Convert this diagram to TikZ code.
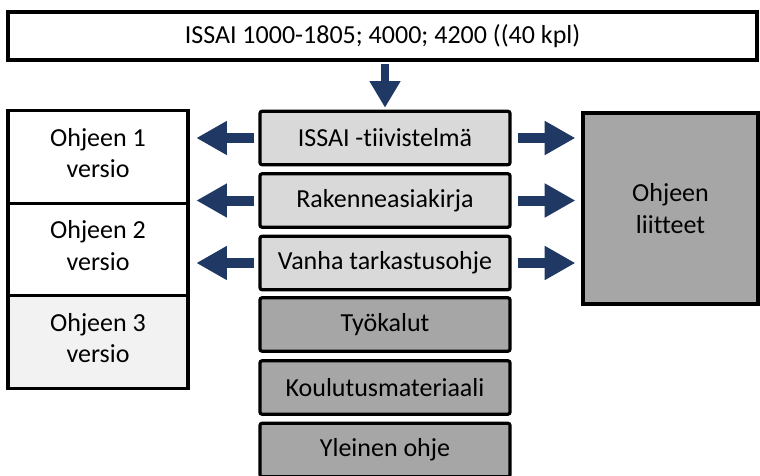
\documentclass[tikz,border=0pt]{standalone}
\usepackage{fontspec}
\setmainfont{Carlito}[Ligatures={NoCommon,NoContextual,NoRequired}]
\usetikzlibrary{arrows.meta}
\definecolor{arrowblue}{RGB}{31,56,100}
\definecolor{lightfill}{RGB}{217,217,217}
\definecolor{darkfill}{RGB}{166,166,166}
\definecolor{palefill}{RGB}{242,242,242}
\tikzset{
  box/.style={draw=black, line width=2.4pt, align=center, inner sep=0pt,
    font=\fontsize{19.5}{23.5}\selectfont},
  topbox/.style={box, fill=white, minimum width=561.75pt, minimum height=36pt},
  midbox/.style={box, rounded corners=1.5pt, minimum width=187.5pt, minimum height=40pt},
  verbox/.style={box, text depth=6pt, minimum width=135pt, minimum height=69.4pt},
  attbox/.style={box, fill=darkfill, minimum width=131.25pt, minimum height=143.25pt},
  arr/.style={draw=arrowblue, line width=7.5pt, -{Triangle[length=23pt,width=24pt]}},
}
\begin{document}
\begin{tikzpicture}[x=0.75pt, y=-0.75pt]
  \clip (0,0) rectangle (760,475);
  % ISSAI standards
  \node[topbox] (issai) at (382.5,36) {ISSAI 1000-1805; 4000; 4200 ((40 kpl)};
  % middle column
  \foreach \n/\y/\col/\txt in {1/138/lightfill/ISSAI -tiivistelmä,
      2/200.5/lightfill/Rakenneasiakirja, 3/263/lightfill/Vanha tarkastusohje,
      4/324.5/darkfill/Työkalut, 5/387.5/darkfill/Koulutusmateriaali,
      6/450/darkfill/Yleinen ohje} {
    \node[midbox, fill=\col] (mid\n) at (385,\y) {\txt};
  }
  % versions of the guide
  \node[verbox, fill=white] (ver1) at (98,157) {Ohjeen 1\\versio};
  \node[verbox, fill=white] (ver2) at (98,249.5) {Ohjeen 2\\versio};
  \node[verbox, fill=palefill] (ver3) at (98,342) {Ohjeen 3\\versio};
  \node[attbox] (att) at (670.5,208.5) {Ohjeen\\liitteet};
  % arrows
  \draw[arr, line width=5.5pt, -{Triangle[length=20pt,width=22pt]},
    shorten <=2pt, shorten >=1.5pt] (issai.south -| mid1.north) -- (mid1.north);
  \foreach \n/\v in {1/ver1, 2/ver1, 3/ver2} {
    \draw[arr, shorten <=3pt, shorten >=5pt] (mid\n.west) -- (\v.east |- mid\n.west);
    \draw[arr, shorten <=4.5pt, shorten >=4.5pt] (mid\n.east) -- (att.west |- mid\n.east);
  }
\end{tikzpicture}
\end{document}
